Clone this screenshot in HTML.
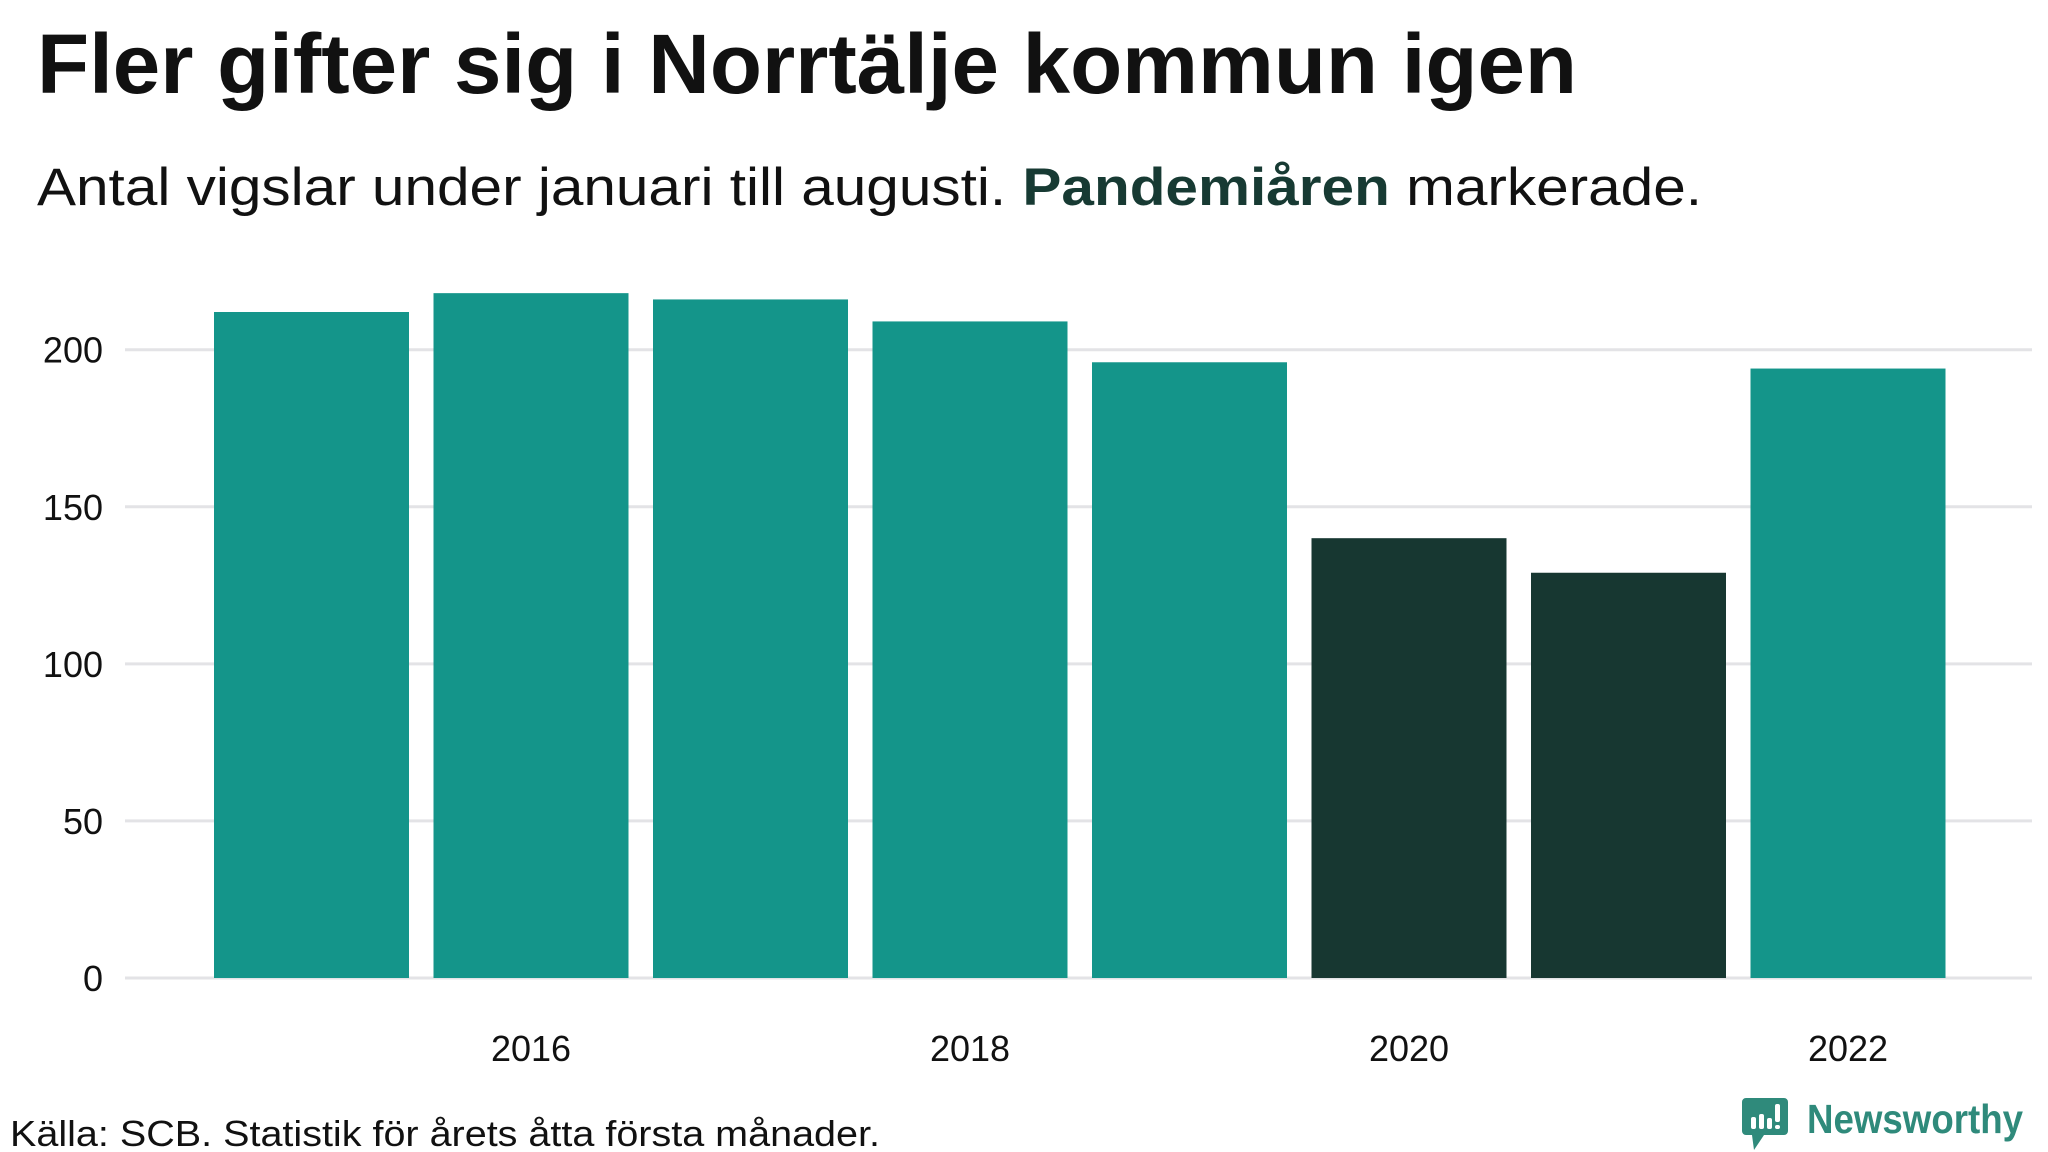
<!DOCTYPE html>
<html><head><meta charset="utf-8"><style>
html,body{margin:0;padding:0;background:#fff;}
svg{display:block;font-family:"Liberation Sans",sans-serif;}
</style></head><body>
<svg id="chart" width="2048" height="1152" viewBox="0 0 2048 1152" xmlns="http://www.w3.org/2000/svg">
<rect width="2048" height="1152" fill="#fff"/>
<text x="37" y="93" font-size="84" font-weight="bold" fill="#111" textLength="1540" lengthAdjust="spacingAndGlyphs">Fler gifter sig i Norrtälje kommun igen</text>
<text x="37" y="205" font-size="53" fill="#111" textLength="1665" lengthAdjust="spacingAndGlyphs">Antal vigslar under januari till augusti. <tspan font-weight="bold" fill="#173a33">Pandemiåren</tspan> markerade.</text>
<g id="grid"></g>
<g id="bars"></g>
<g id="xlabels"></g>
<text x="10" y="1146" font-size="36" fill="#111" textLength="870" lengthAdjust="spacingAndGlyphs">Källa: SCB. Statistik för årets åtta första månader.</text>
<g>
<path d="M1746 1098 h38 a4 4 0 0 1 4 4 v29 a4 4 0 0 1 -4 4 h-20 l-10 15 l-2 -15 h-6 a4 4 0 0 1 -4 -4 v-29 a4 4 0 0 1 4 -4z" fill="#2f8a7b"/>
<rect x="1751" y="1117" width="5" height="12" rx="2" fill="#fff"/>
<rect x="1759" y="1114" width="5" height="15" rx="2" fill="#fff"/>
<rect x="1767" y="1118" width="5" height="11" rx="2" fill="#fff"/>
<rect x="1775" y="1104" width="5" height="18" rx="2" fill="#fff"/>
<rect x="1775" y="1125" width="5" height="4" rx="2" fill="#fff"/>
<text x="1807" y="1133" font-size="41" font-weight="bold" fill="#2f8a7b" textLength="216" lengthAdjust="spacingAndGlyphs">Newsworthy</text>
</g>
</svg>
<script>
const categories = [2015, 2016, 2017, 2018, 2019, 2020, 2021, 2022];
const values = [212, 218, 216, 209, 196, 140, 129, 194];
const pandemicYears = [2020, 2021];
const yTicks = [0, 50, 100, 150, 200];
const xTickLabels = [2016, 2018, 2020, 2022];

const NS = "http://www.w3.org/2000/svg";
const y0 = 978, yPerUnit = (978 - 349.7) / 200;
const yScale = v => y0 - v * yPerUnit;
const barLeft0 = 214, step = 219.5, barW = 195;
const xScale = c => barLeft0 + categories.indexOf(c) * step;

const grid = document.getElementById('grid');
yTicks.forEach(t => {
  const l = document.createElementNS(NS, 'line');
  
  
  l.setAttribute('x1', 125); l.setAttribute('x2', 2032);
  l.setAttribute('y1', yScale(t)); l.setAttribute('y2', yScale(t));
  l.setAttribute('stroke', '#e3e3e6'); l.setAttribute('stroke-width', 3);
  grid.appendChild(l);
  const tx = document.createElementNS(NS, 'text');
  
  
  tx.setAttribute('x', 103); tx.setAttribute('y', yScale(t) + 13);
  tx.setAttribute('text-anchor', 'end'); tx.setAttribute('font-size', '36');
  tx.setAttribute('fill', '#111');
  tx.textContent = t;
  grid.appendChild(tx);
});

const bars = document.getElementById('bars');
categories.forEach((c, i) => {
  const r = document.createElementNS(NS, 'rect');
  
  
  r.setAttribute('x', xScale(c)); r.setAttribute('width', barW);
  r.setAttribute('y', yScale(values[i])); r.setAttribute('height', y0 - yScale(values[i]));
  r.setAttribute('fill', pandemicYears.includes(c) ? '#173731' : '#14958a');
  bars.appendChild(r);
});

const xl = document.getElementById('xlabels');
xTickLabels.forEach(c => {
  const t = document.createElementNS(NS, 'text');
  
  
  t.setAttribute('x', xScale(c) + barW / 2); t.setAttribute('y', 1061);
  t.setAttribute('text-anchor', 'middle'); t.setAttribute('font-size', '36');
  t.setAttribute('fill', '#111');
  t.textContent = c;
  xl.appendChild(t);
});
</script>
</body></html>
